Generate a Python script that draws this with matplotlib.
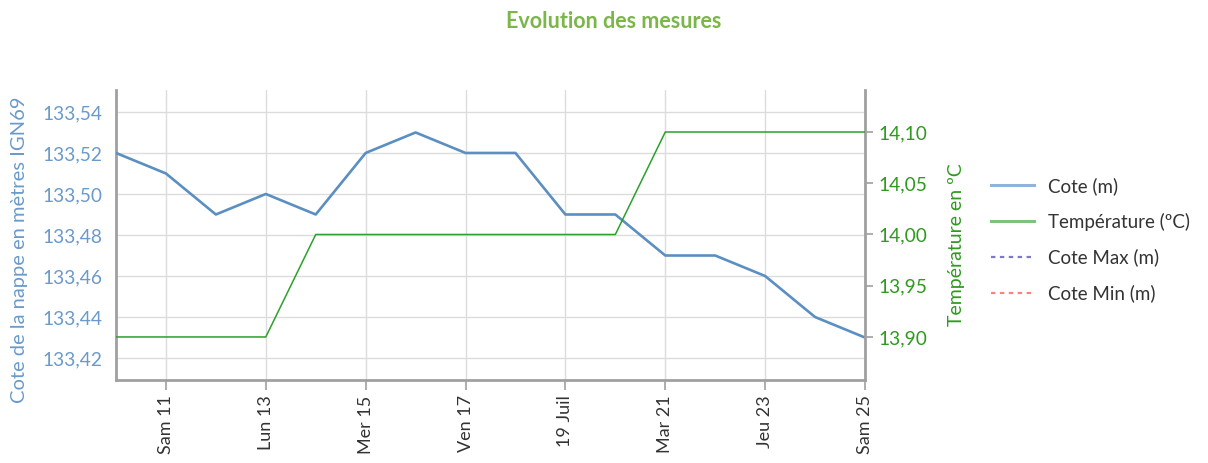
import matplotlib.pyplot as plt
from matplotlib.lines import Line2D

plt.rcParams['font.family'] = ['Lato', 'DejaVu Sans']

# Données (juillet)
jours = [10, 11, 12, 13, 14, 15, 16, 17, 18, 19, 20, 21, 22, 23, 24, 25]
cote = [133.52, 133.51, 133.49, 133.50, 133.49, 133.52, 133.53, 133.52,
        133.52, 133.49, 133.49, 133.47, 133.47, 133.46, 133.44, 133.43]
temperature = [13.90, 13.90, 13.90, 13.90, 14.00, 14.00, 14.00, 14.00,
               14.00, 14.00, 14.00, 14.10, 14.10, 14.10, 14.10, 14.10]
jours_ticks = [11, 13, 15, 17, 19, 21, 23, 25]
labels_ticks = ["Sam 11", "Lun 13", "Mer 15", "Ven 17", "19 Juil", "Mar 21", "Jeu 23", "Sam 25"]
cote_ticks = [133.42, 133.44, 133.46, 133.48, 133.50, 133.52, 133.54]
temp_ticks = [13.90, 13.95, 14.00, 14.05, 14.10]

bleu = "#5b8fc2"
bleu_txt = "#6a9acb"
vert = "#2ca02c"
vert_txt = "#2e9a1e"
gris_axe = "#a0a0a0"
gris_grille = "#dcdcdc"

fig = plt.figure(figsize=(12.08, 4.63), dpi=100)
ax = fig.add_axes([116 / 1208, 1 - 380 / 463, (865 - 116) / 1208, 290 / 463])
ax2 = ax.twinx()

ax.plot(jours, cote, color=bleu, lw=1.9, zorder=3)
ax2.plot(jours, temperature, color=vert, lw=1.1, zorder=3)

ax.set_xlim(10, 25)
ax.set_ylim(133.4093, 133.5507)
ax2.set_ylim(13.858, 14.141)

ax.set_xticks(jours_ticks)
ax.set_xticklabels(labels_ticks, rotation=90, fontsize=13, color="#333333")
ax.set_yticks(cote_ticks)
ax.set_yticklabels([f"{v:.2f}".replace(".", ",") for v in cote_ticks],
                   fontsize=13.8, color=bleu_txt)
ax2.set_yticks(temp_ticks)
ax2.set_yticklabels([f"{v:.2f}".replace(".", ",") for v in temp_ticks],
                    fontsize=13.8, color=vert_txt)

ax.grid(True, color=gris_grille, lw=1)
ax.set_axisbelow(True)
ax.tick_params(axis="y", length=0, pad=10)
ax.tick_params(axis="x", length=7, width=1.2, color=gris_axe, pad=4)
ax2.tick_params(axis="y", length=6, width=1.2, color=gris_axe, pad=4)

for a in (ax, ax2):
    for s in a.spines.values():
        s.set_visible(False)
ax.spines["left"].set_visible(True)
ax.spines["bottom"].set_visible(True)
ax2.spines["right"].set_visible(True)
for s in (ax.spines["left"], ax.spines["bottom"], ax2.spines["right"]):
    s.set_color(gris_axe)
    s.set_linewidth(2)

ax.set_ylabel("Cote de la nappe en mètres IGN69", color=bleu_txt, fontsize=14.5)
ax.yaxis.set_label_coords(-0.118, 0.448)
ax2.set_ylabel("Température en ºC", color=vert_txt, fontsize=14)
ax2.yaxis.set_label_coords(1.111, 0.466)

fig.text(614 / 1208, 1 - 22 / 463, "Evolution des mesures", ha="center", va="center",
         fontsize=15.5, fontweight="bold", color="#7ab648")

handles = [
    Line2D([], [], color="#8fb3d9", lw=2.2),
    Line2D([], [], color="#7ec27e", lw=2.2),
    Line2D([], [], color="#7a7ac8", lw=1.6, ls=(0, (2, 2))),
    Line2D([], [], color="#ff8080", lw=1.6, ls=(0, (2, 2))),
]
noms = ["Cote (m)", "Température (ºC)", "Cote Max (m)", "Cote Min (m)"]
fig.legend(handles, noms, loc="upper left", bbox_to_anchor=(974 / 1208, 1 - 160 / 463),
           frameon=False, fontsize=13.5, handlelength=2.3, handletextpad=0.75,
           labelspacing=0.95, labelcolor="#333333")

fig.savefig("out.png", dpi=100)
